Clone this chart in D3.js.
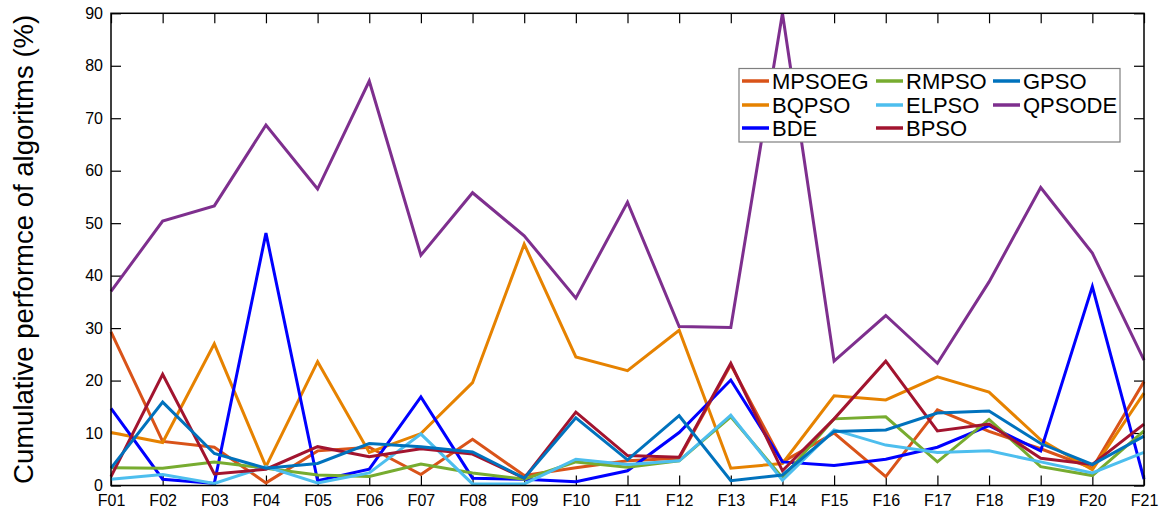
<!DOCTYPE html>
<html>
<head>
<meta charset="utf-8">
<script src="https://cdn.jsdelivr.net/npm/d3@7"></script>
<style>
  body { margin: 0; background: #fff; }
  text { font-family: "Liberation Sans", Arial, Helvetica, sans-serif; }
</style>
</head>
<body>
<svg id="chart" width="1165" height="512"></svg>
<script>
const categories = ["F01","F02","F03","F04","F05","F06","F07","F08","F09","F10","F11","F12","F13","F14","F15","F16","F17","F18","F19","F20","F21"];
const yTicks = [0,10,20,30,40,50,60,70,80,90];

const MPSOEG = [29.3, 8.4, 7.3, 0.5, 6.6, 7.3, 2.1, 8.8, 1.9, 3.4, 4.7, 5.2, 23.0, 4.5, 10.0, 1.7, 14.4, 10.3, 7.0, 3.3, 19.8];
const BQPSO  = [10.1, 8.2, 27.0, 3.6, 23.6, 6.3, 9.9, 19.6, 46.0, 24.5, 21.9, 29.6, 3.3, 4.2, 17.1, 16.3, 20.7, 17.8, 8.7, 3.0, 17.6];
const BDE    = [14.7, 1.2, 0.4, 48.1, 0.9, 3.1, 16.9, 1.4, 1.2, 0.7, 2.8, 10.1, 20.1, 4.5, 3.8, 5.0, 7.3, 11.4, 6.6, 37.9, 1.2];
const RMPSO  = [3.4, 3.3, 4.5, 3.3, 2.0, 1.7, 4.1, 2.4, 1.2, 4.5, 3.5, 4.7, 13.1, 1.5, 12.7, 13.1, 4.5, 12.6, 3.6, 1.9, 10.4];
const ELPSO  = [1.2, 2.1, 0.4, 3.6, 0.5, 2.4, 9.8, 0.3, 0.3, 5.0, 4.0, 4.7, 13.4, 1.0, 10.6, 7.7, 6.3, 6.6, 4.5, 2.4, 6.3];
const BPSO   = [1.7, 21.2, 2.2, 3.1, 7.4, 5.5, 7.0, 6.0, 1.4, 14.0, 5.7, 5.4, 23.3, 2.8, 12.7, 23.7, 10.4, 11.7, 5.2, 4.0, 11.7];
const GPSO   = [3.3, 15.9, 6.1, 3.3, 4.2, 8.0, 7.4, 6.4, 1.4, 12.9, 4.9, 13.3, 0.9, 2.0, 10.3, 10.6, 13.8, 14.2, 8.0, 4.0, 9.4];
const QPSODE = [37.0, 50.4, 53.3, 68.7, 56.5, 77.1, 43.9, 55.8, 47.6, 35.7, 54.0, 30.3, 30.1, 90.0, 23.7, 32.4, 23.3, 38.8, 56.8, 44.3, 23.9];

const seriesNames = ["MPSOEG","BQPSO","BDE","RMPSO","ELPSO","BPSO","GPSO","QPSODE"];
const seriesValues = [MPSOEG, BQPSO, BDE, RMPSO, ELPSO, BPSO, GPSO, QPSODE];
const seriesColors = ["#D95319","#E68200","#0000FF","#77AC30","#4DBEEE","#A2142F","#0072BD","#7E2F8E"];

const svg = d3.select("#chart");
const L = 111, R = 1144, T = 13.3, B = 485.5;

const x = d3.scalePoint().domain(categories).range([L, R]).padding(0);
const y = d3.scaleLinear().domain([0, 90]).range([B, T]);

const font = "Liberation Sans, Arial, Helvetica, sans-serif";

const xAxis = d3.axisBottom(x).tickSize(-10).tickPadding(9).tickSizeOuter(0);
const xTop = d3.axisTop(x).tickSize(-10).tickFormat("").tickSizeOuter(0);
const yAxis = d3.axisLeft(y).tickValues(yTicks).tickSize(-10).tickPadding(8).tickSizeOuter(0);
const yRight = d3.axisRight(y).tickValues(yTicks).tickSize(-10).tickFormat("").tickSizeOuter(0);

function styleAxis(size) {
  return g => {
    g.select(".domain").remove();
    g.selectAll(".tick line").attr("stroke", "#000").attr("stroke-width", 1.2);
    g.selectAll(".tick text").attr("fill", "#000").style("font-size", size + "px").style("font-family", font);
  };
}

svg.append("g").attr("transform", `translate(0,${B})`).call(xAxis).call(styleAxis(16));
svg.append("g").attr("transform", `translate(0,${T})`).call(xTop).call(styleAxis(16));
svg.append("g").attr("transform", `translate(${L},0)`).call(yAxis).call(styleAxis(16));
svg.append("g").attr("transform", `translate(${R},0)`).call(yRight).call(styleAxis(16));

const line = d3.line().x((d, i) => x(categories[i])).y(d => y(d));
const plot = svg.append("g");
seriesValues.forEach((vals, k) => {
  plot.append("path")
    .datum(vals)
    .attr("d", line)
    .attr("fill", "none")
    .attr("stroke", seriesColors[k])
    .attr("stroke-width", 3)
    .attr("stroke-linejoin", "miter");
});

svg.append("rect")
  .attr("x", L).attr("y", T).attr("width", R - L).attr("height", B - T)
  .attr("fill", "none").attr("stroke", "#000").attr("stroke-width", 1.5);

svg.append("text")
  .attr("transform", `translate(23,${(T + B) / 2}) rotate(-90)`)
  .attr("text-anchor", "middle")
  .attr("dominant-baseline", "central")
  .style("font-size", "27.5px")
  .style("font-family", font)
  .attr("fill", "#000")
  .text("Cumulative performce of algoritms (%)");

const lg = svg.append("g");
lg.append("rect").attr("x", 739).attr("y", 68.5).attr("width", 381).attr("height", 73.5)
  .attr("fill", "#fff").attr("stroke", "#7f7f7f").attr("stroke-width", 1.2);
const colX = [742, 876, 993];
const rowY = [81, 105, 128];
seriesNames.forEach((name, k) => {
  const c = Math.floor(k / 3), r = k % 3;
  const lx = colX[c], ly = rowY[r];
  lg.append("line").attr("x1", lx).attr("x2", lx + 27).attr("y1", ly).attr("y2", ly)
    .attr("stroke", seriesColors[k]).attr("stroke-width", 3.5);
  lg.append("text").attr("x", lx + 30).attr("y", ly)
    .attr("dominant-baseline", "central")
    .style("font-size", "22px").style("font-family", font).attr("fill", "#000")
    .text(name);
});
</script>
</body>
</html>
